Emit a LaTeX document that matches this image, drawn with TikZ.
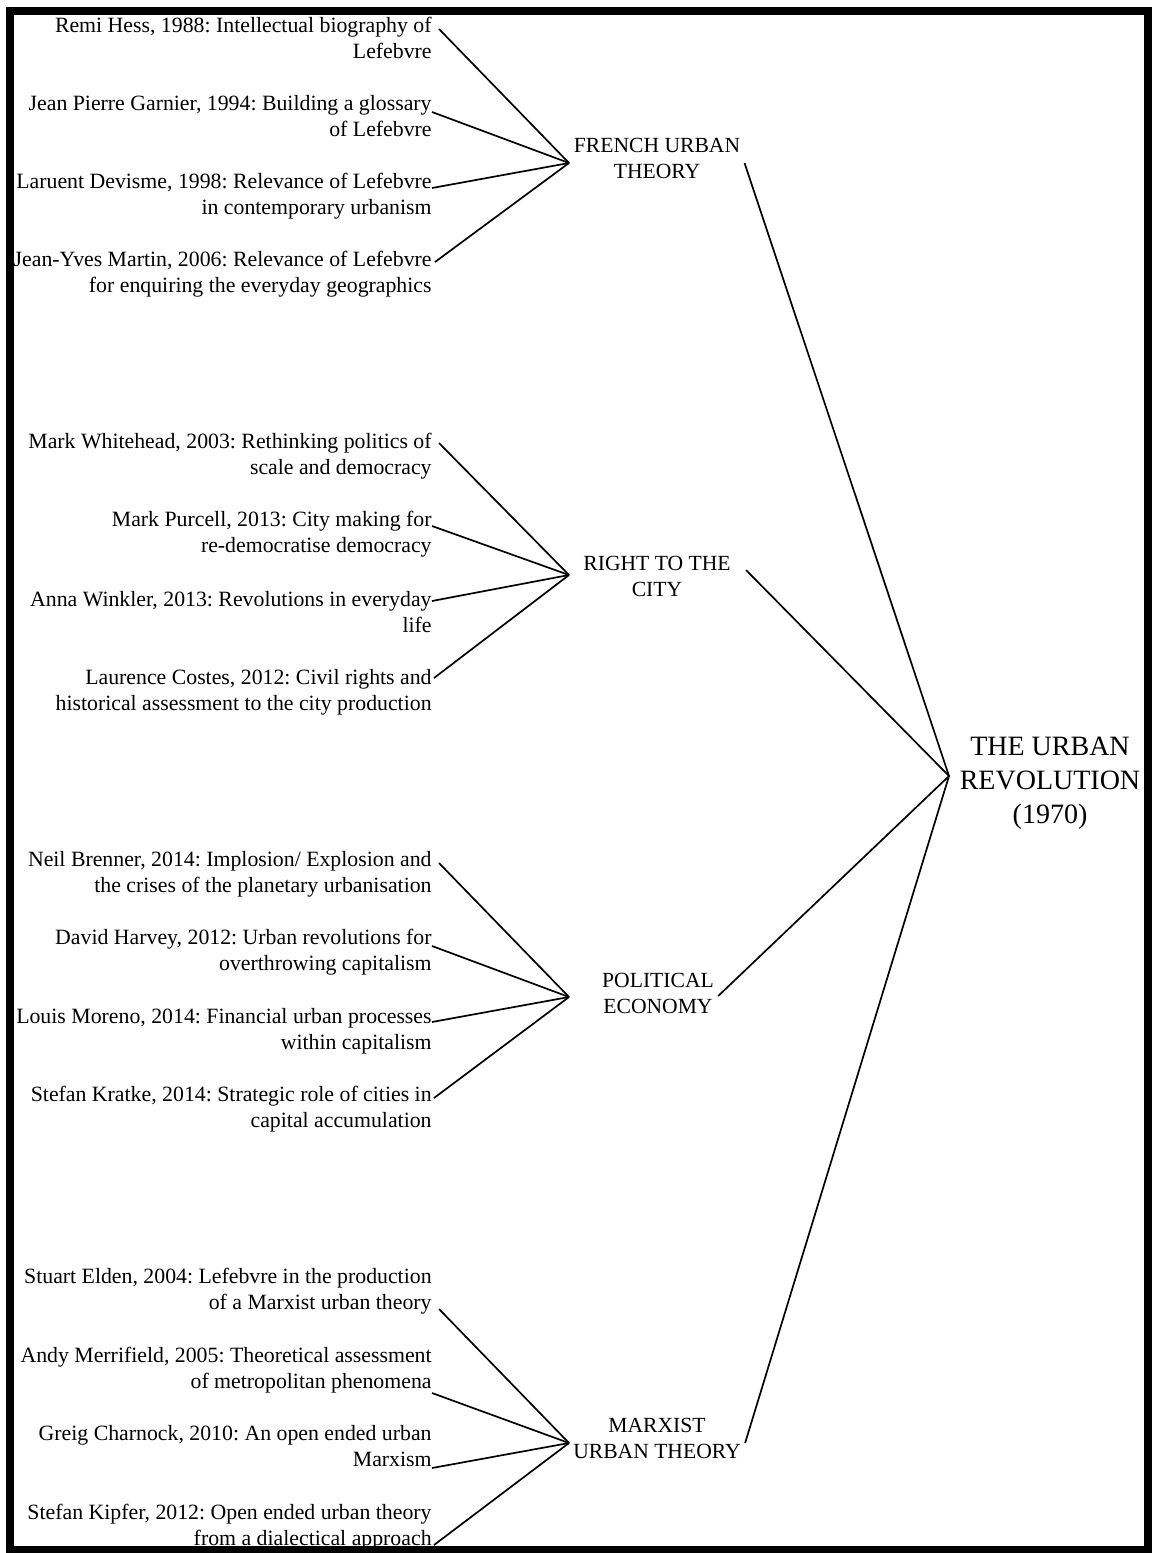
\documentclass[tikz,border=0pt]{standalone}
\usepackage{fontspec}
\setmainfont{Liberation Serif}
\usetikzlibrary{positioning}
\frenchspacing

\tikzset{
  leaf/.style={anchor=north east, align=right, inner sep=0pt, font=\fontsize{10.9}{13}\selectfont},
  theme/.style={align=center, inner sep=2pt, font=\fontsize{10.8}{13}\selectfont},
  link/.style={draw=black, line width=0.85pt}
}

\begin{document}
\begin{tikzpicture}[x=0.5pt,y=-0.5pt]
\useasboundingbox (0,0) rectangle (1152,1553);
\draw [line width=3.75pt] (10,11) rectangle (1148,1550);

% main node
\node[align=center, inner sep=3pt, font=\fontsize{14}{17}\selectfont] (urbrev) at (1050,783) {THE URBAN\\REVOLUTION\\(1970)};
\coordinate (hub) at (949,776);

% themes
\node[theme] (fut) at (657,158) {FRENCH URBAN\\THEORY};
\node[theme] (rtc) at (657,576) {RIGHT TO THE\\CITY};
\node[theme] (pe) at (658,993) {POLITICAL\\ECONOMY};
\node[theme] (mut) at (657,1438) {MARXIST\\URBAN THEORY};

\coordinate (futj) at (569,163);
\coordinate (rtcj) at (569,575);
\coordinate (pej) at (569,997);
\coordinate (mutj) at (569,1443);

% french urban theory
\node[leaf] (fut1) at (432,17) {Remi Hess, 1988: Intellectual biography of\\Lefebvre};
\node[leaf] (fut2) at (432,95) {Jean Pierre Garnier, 1994: Building a glossary\\of Lefebvre};
\node[leaf] (fut3) at (432,173) {Laruent Devisme, 1998: Relevance of Lefebvre\\in contemporary urbanism};
\node[leaf] (fut4) at (432,251) {Jean-Yves Martin, 2006: Relevance of Lefebvre\\for enquiring the everyday geographics};

% right to the city
\node[leaf] (rtc1) at (432,433) {Mark Whitehead, 2003: Rethinking politics of\\scale and democracy};
\node[leaf] (rtc2) at (432,511) {Mark Purcell, 2013: City making for\\re-democratise democracy};
\node[leaf] (rtc3) at (432,591) {Anna Winkler, 2013: Revolutions in everyday\\life};
\node[leaf] (rtc4) at (432,669) {Laurence Costes, 2012: Civil rights and\\historical assessment to the city production};

% political economy
\node[leaf] (pe1) at (432,851) {Neil Brenner, 2014: Implosion/ Explosion and\\the crises of the planetary urbanisation};
\node[leaf] (pe2) at (432,929) {David Harvey, 2012: Urban revolutions for\\overthrowing capitalism};
\node[leaf] (pe3) at (432,1008) {Louis Moreno, 2014: Financial urban processes\\within capitalism};
\node[leaf] (pe4) at (432,1086) {Stefan Kratke, 2014: Strategic role of cities in\\capital accumulation};

% marxist urban theory
\node[leaf] (mut1) at (432,1268) {Stuart Elden, 2004: Lefebvre in the production\\of a Marxist urban theory};
\node[leaf] (mut2) at (432,1347) {Andy Merrifield, 2005: Theoretical assessment\\of metropolitan phenomena};
\node[leaf] (mut3) at (432,1425) {Greig Charnock, 2010: An open ended urban\\Marxism};
\node[leaf] (mut4) at (432,1504) {Stefan Kipfer, 2012: Open ended urban theory\\from a dialectical approach};

\draw[link] ([shift={(7,12)}]fut1.north east) -- (futj);
\draw[link] ([shift={(0,17)}]fut2.north east) -- (futj);
\draw[link] ([shift={(0,15)}]fut3.north east) -- (futj);
\draw[link] ([shift={(3,11)}]fut4.north east) -- (futj);

\draw[link] ([shift={(7,10)}]rtc1.north east) -- (rtcj);
\draw[link] ([shift={(0,15)}]rtc2.north east) -- (rtcj);
\draw[link] ([shift={(0,10)}]rtc3.north east) -- (rtcj);
\draw[link] ([shift={(2,9)}]rtc4.north east) -- (rtcj);

\draw[link] ([shift={(7,12)}]pe1.north east) -- (pej);
\draw[link] ([shift={(0,17)}]pe2.north east) -- (pej);
\draw[link] ([shift={(0,14)}]pe3.north east) -- (pej);
\draw[link] ([shift={(2,12)}]pe4.north east) -- (pej);

\draw[link] ([shift={(7,41)}]mut1.north east) -- (mutj);
\draw[link] ([shift={(0,46)}]mut2.north east) -- (mutj);
\draw[link] ([shift={(0,43)}]mut3.north east) -- (mutj);
\draw[link] ([shift={(2,41)}]mut4.north east) -- (mutj);

% themes to main
\draw[link] ([yshift=-2.5pt]fut.east) -- (hub);
\draw[link] ([xshift=5.5pt,yshift=3pt]rtc.east) -- (hub);
\draw[link] ([yshift=-1.5pt]pe.east) -- (hub);
\draw[link] ([yshift=-2.5pt]mut.east) -- (hub);
\end{tikzpicture}
\end{document}
